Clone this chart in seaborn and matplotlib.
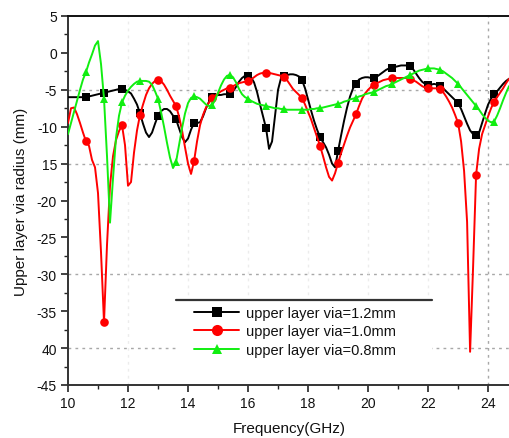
import numpy as np
import pandas as pd
import matplotlib
matplotlib.use("Agg")
import matplotlib.pyplot as plt
from matplotlib.lines import Line2D
from matplotlib.patches import Rectangle
from matplotlib.ticker import MultipleLocator, FixedLocator, FixedFormatter
import seaborn as sns

# ---------------- data ----------------
freq = [round(10.0 + 0.1 * i, 1) for i in range(148)]  # 10.0 ... 24.7 GHz

via_12 = [
    -6.0, -6.0, -6.0, -6.0, -6.0, -6.0, -6.0, -5.9, -5.8, -5.7,   # 10.0-10.9
    -5.6, -5.5, -5.4, -5.3, -5.2, -5.1, -5.0, -4.9, -4.9, -5.0,   # 11.0-11.9
    -5.2, -5.5, -6.2, -7.0, -8.2, -9.6, -10.8, -11.4, -10.8, -9.6,  # 12.0-12.9
    -8.5, -7.9, -7.6, -7.6, -7.9, -8.5, -9.0, -10.2, -11.4, -12.1,  # 13.0-13.9
    -11.6, -10.4, -9.5, -9.5, -9.4, -8.6, -7.5, -6.6, -6.0, -5.8,   # 14.0-14.9
    -5.7, -5.7, -5.6, -5.6, -5.6, -5.2, -4.6, -3.9, -3.4, -3.1,   # 15.0-15.9
    -3.1, -3.3, -4.0, -5.3, -7.0, -8.6, -10.2, -13.0, -12.0, -8.5,  # 16.0-16.9
    -5.0, -3.4, -3.1, -3.0, -2.9, -2.9, -3.0, -3.2, -3.7, -4.8,   # 17.0-17.9
    -6.3, -7.8, -9.2, -10.4, -11.4, -12.1, -12.8, -13.8, -15.0, -15.5,  # 18.0-18.9
    -13.3, -11.2, -9.2, -7.4, -5.9, -4.8, -4.2, -3.6, -3.4, -3.3,  # 19.0-19.9
    -3.3, -3.4, -3.4, -3.2, -2.9, -2.6, -2.3, -2.1, -2.0, -1.9,   # 20.0-20.9
    -1.8, -1.7, -1.7, -1.7, -1.8, -2.2, -2.8, -3.4, -3.9, -4.2,   # 21.0-21.9
    -4.3, -4.3, -4.2, -4.3, -4.5, -4.8, -5.2, -5.6, -6.0, -6.4,   # 22.0-22.9
    -6.8, -7.6, -8.6, -9.6, -10.5, -11.0, -11.1, -10.8, -9.5, -8.2,  # 23.0-23.9
    -7.0, -6.2, -5.6, -5.2, -4.7, -4.2, -3.8, -3.5,               # 24.0-24.7
]

via_10 = [
    -9.5, -7.5, -7.4, -8.3, -9.5, -10.8, -12.0, -12.6, -14.5, -15.5,  # 10.0-10.9
    -19.0, -27.0, -36.5, -26.0, -18.0, -14.0, -11.8, -10.6, -9.8, -12.5,  # 11.0-11.9
    -18.0, -17.5, -13.5, -10.5, -8.4, -7.0, -5.7, -4.8, -4.2, -3.8,  # 12.0-12.9
    -3.7, -3.8, -4.3, -5.0, -5.8, -6.5, -7.2, -8.6, -10.5, -12.8,   # 13.0-13.9
    -15.0, -16.4, -14.7, -12.0, -9.8, -8.4, -7.4, -6.7, -6.1, -5.8,  # 14.0-14.9
    -5.5, -5.2, -5.0, -4.8, -4.7, -4.5, -4.3, -4.1, -4.0, -3.9,   # 15.0-15.9
    -3.8, -3.6, -3.3, -3.0, -2.8, -2.7, -2.7, -2.7, -2.8, -2.9,   # 16.0-16.9
    -3.0, -3.1, -3.3, -3.7, -4.3, -4.9, -5.3, -5.7, -6.1, -7.0,   # 17.0-17.9
    -8.0, -9.0, -10.2, -11.4, -12.6, -14.0, -15.5, -16.8, -17.3, -16.3,  # 18.0-18.9
    -14.9, -13.6, -12.4, -11.2, -10.1, -9.2, -8.3, -7.2, -6.2, -5.5,  # 19.0-19.9
    -5.0, -4.6, -4.3, -4.1, -3.9, -3.7, -3.6, -3.5, -3.4, -3.4,   # 20.0-20.9
    -3.4, -3.4, -3.4, -3.4, -3.5, -3.7, -3.9, -4.2, -4.5, -4.7,   # 21.0-21.9
    -4.8, -4.8, -4.8, -4.8, -4.9, -5.3, -5.9, -6.6, -7.4, -8.4,   # 22.0-22.9
    -9.5, -12.0, -16.0, -22.9, -40.5, -29.0, -16.5, -13.0, -11.0, -9.8,  # 23.0-23.9
    -8.6, -7.5, -6.6, -6.0, -5.4, -4.8, -4.1, -3.5,               # 24.0-24.7
]

via_08 = [
    -11.0, -9.5, -8.0, -6.5, -5.0, -3.6, -2.6, -1.3, -0.2, 1.0,   # 10.0-10.9
    1.6, -1.5, -6.2, -14.0, -23.0, -17.0, -11.5, -8.5, -6.7, -5.8,  # 11.0-11.9
    -5.1, -4.6, -4.2, -3.9, -3.8, -3.8, -3.8, -3.9, -4.3, -5.2,   # 12.0-12.9
    -6.2, -8.0, -10.0, -12.2, -14.2, -15.6, -14.8, -12.5, -10.2, -8.2,  # 13.0-13.9
    -6.8, -6.1, -5.9, -6.0, -6.2, -6.6, -7.0, -7.2, -7.1, -6.4,   # 14.0-14.9
    -5.4, -4.4, -3.6, -3.1, -3.0, -3.3, -4.0, -4.9, -5.6, -6.0,   # 15.0-15.9
    -6.2, -6.5, -6.7, -6.9, -7.0, -7.1, -7.2, -7.3, -7.4, -7.5,   # 16.0-16.9
    -7.5, -7.6, -7.6, -7.7, -7.7, -7.7, -7.7, -7.7, -7.7, -7.7,   # 17.0-17.9
    -7.7, -7.6, -7.6, -7.5, -7.5, -7.4, -7.3, -7.2, -7.1, -7.0,   # 18.0-18.9
    -6.9, -6.8, -6.6, -6.5, -6.3, -6.2, -6.1, -5.9, -5.8, -5.6,   # 19.0-19.9
    -5.5, -5.4, -5.3, -5.1, -4.9, -4.7, -4.5, -4.4, -4.2, -4.0,   # 20.0-20.9
    -3.8, -3.6, -3.4, -3.2, -3.0, -2.8, -2.6, -2.4, -2.3, -2.2,   # 21.0-21.9
    -2.1, -2.1, -2.1, -2.2, -2.3, -2.5, -2.8, -3.1, -3.4, -3.8,   # 22.0-22.9
    -4.2, -4.7, -5.2, -5.7, -6.2, -6.7, -7.2, -7.7, -8.3, -8.8,   # 23.0-23.9
    -9.2, -9.4, -9.3, -8.5, -7.5, -6.4, -5.4, -4.5,               # 24.0-24.7
]

marker_freq = [10.6, 11.2, 11.8, 12.4, 13.0, 13.6, 14.2, 14.8, 15.4, 16.0,
               16.6, 17.2, 17.8, 18.4, 19.0, 19.6, 20.2, 20.8, 21.4, 22.0,
               22.4, 23.0, 23.6, 24.2]

series_labels = ["upper layer via=1.2mm", "upper layer via=1.0mm", "upper layer via=0.8mm"]
series_values = [via_12, via_10, via_08]
series_colors = ["#000000", "#ff0000", "#11ee11"]
series_markers = ["s", "o", "^"]

y_ticks = [5, 0, -5, -10, -15, -20, -25, -30, -35, -40, -45]
y_tick_labels = ["5", "0", "-5", "-10", "15", "-20", "-25", "-30", "-35", "40", "-45"]
x_ticks = [10, 12, 14, 16, 18, 20, 22, 24]

# ---------------- style ----------------
sns.set_style("ticks")
plt.rcParams["font.family"] = ["Liberation Sans", "DejaVu Sans"]

fig = plt.figure(figsize=(5.10, 4.39), dpi=100)
ax = fig.add_axes([68 / 510, 1 - 386 / 439, 1 - 68 / 510, (386 - 17) / 439])

mark_idx = [int(round((f - 10.0) / 0.1)) for f in marker_freq]

for vals, lab, col, mk in zip(series_values, series_labels, series_colors, series_markers):
    df = pd.DataFrame({"freq": freq, "val": vals})
    sns.lineplot(data=df, x="freq", y="val", ax=ax, color=col, marker=mk,
                 markevery=mark_idx, markersize=5.5 if mk != "o" else 6.2,
                 markeredgewidth=0, linewidth=1.4, label=lab, legend=False,
                 zorder=3)

ax.set_xlim(10, 24.73)
ax.set_ylim(-45, 5)

# grid (dotted)
grid_kw = dict(color="#a8a8a8", linestyle=(0, (2, 3)), linewidth=1.0, zorder=0.5)
for yv in [-5, -15, -30, -40]:
    ax.axhline(yv, **grid_kw)
ax.axvline(24, **grid_kw)
faint_kw = dict(color="#ececec", linestyle=(0, (2, 3)), linewidth=1.0, zorder=0.5)
for xv in [12, 14, 16, 18, 20, 22]:
    ax.axvline(xv, **faint_kw)

# ticks
ax.yaxis.set_major_locator(FixedLocator(y_ticks))
ax.yaxis.set_major_formatter(FixedFormatter(y_tick_labels))
ax.yaxis.set_minor_locator(MultipleLocator(2.5))
ax.xaxis.set_major_locator(FixedLocator(x_ticks))
ax.xaxis.set_minor_locator(MultipleLocator(1))
ax.tick_params(axis="both", which="major", direction="out", length=5, width=1.2,
               labelsize=10, colors="#222222", pad=3)
ax.tick_params(axis="both", which="minor", direction="out", length=3, width=1.0,
               colors="#222222")
ax.tick_params(axis="both", labelcolor="#111111")

for side in ["left", "bottom"]:
    ax.spines[side].set_color("#333333")
    ax.spines[side].set_linewidth(1.4)
ax.spines["top"].set_visible(True)
ax.spines["top"].set_color("#111111")
ax.spines["top"].set_linewidth(1.4)
ax.spines["right"].set_visible(False)

ax.set_xlabel("Frequency(GHz)", fontsize=11, labelpad=8, color="#111111")
ax.set_ylabel("Upper layer via radius (mm)", fontsize=11, labelpad=6, color="#111111")

# legend box: white background with a top border only
x0 = (176 - 68) / 442
x1 = (432 - 68) / 442
ytop = (386 - 301) / 369
ax.add_patch(Rectangle((x0, 0.003), x1 - x0, ytop - 0.003, transform=ax.transAxes,
                       facecolor="white", edgecolor="none", zorder=1))
ax.add_line(Line2D([x0, x1], [ytop, ytop], transform=ax.transAxes,
                   color="#333333", linewidth=1.6, zorder=4))

handles = [Line2D([], [], color=c, marker=m, markersize=7 if m != "o" else 8,
                  markeredgewidth=0, linewidth=1.4)
           for c, m in zip(series_colors, series_markers)]
leg = ax.legend(handles, series_labels, loc="upper left",
                bbox_to_anchor=((194 - 68) / 442, (386 - 307) / 369),
                frameon=False, fontsize=10.5, borderpad=0, borderaxespad=0,
                handlelength=3.1, handletextpad=0.5, labelspacing=0.3)
for t in leg.get_texts():
    t.set_color("#111111")

fig.savefig("out.png", dpi=100)
